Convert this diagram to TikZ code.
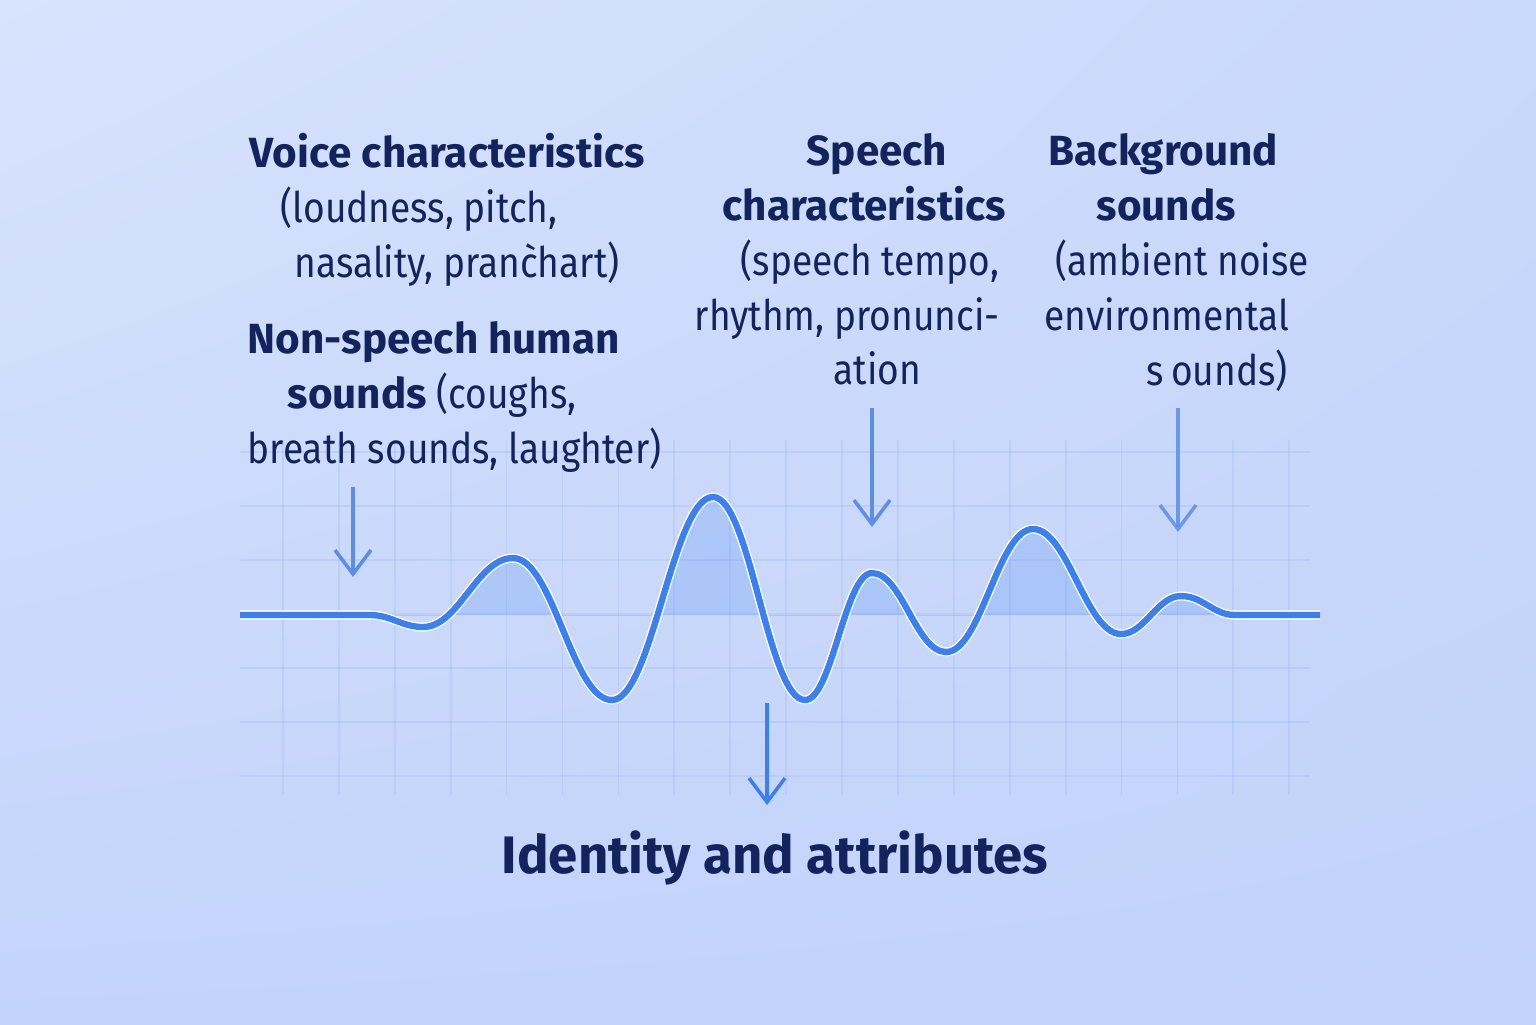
\documentclass[tikz,border=0pt]{standalone}
\usepackage{fontspec}
\setmainfont{Fira Sans}[UprightFeatures={FakeStretch=0.88}]
\usepackage{tikz}
\usetikzlibrary{arrows.meta, positioning, shadings}
\usepackage{xcolor}
\definecolor{ink}{HTML}{13235E}
\definecolor{wave}{HTML}{3A80F2}
\definecolor{pointc}{HTML}{5C8EE6}
\definecolor{gridc}{HTML}{9DB8F2}
\definecolor{bgtl}{HTML}{D8E3FD}
\definecolor{bgtr}{HTML}{C9D9FB}
\definecolor{bgbl}{HTML}{C3D4FB}
\definecolor{bgbr}{HTML}{C2D3FA}
% signal: extrema joined by curves with flat tangents
\newcommand{\wavepath}{(2.40,-6.15) -- (3.70,-6.15)
  .. controls (3.91,-6.15) and (4.02,-6.27) .. (4.23,-6.27)
  .. controls (4.59,-6.27) and (4.77,-5.58) .. (5.13,-5.58)
  .. controls (5.53,-5.58) and (5.72,-7.00) .. (6.12,-7.00)
  .. controls (6.52,-7.00) and (6.73,-4.97) .. (7.13,-4.97)
  .. controls (7.50,-4.97) and (7.68,-7.00) .. (8.05,-7.00)
  .. controls (8.32,-7.00) and (8.45,-5.73) .. (8.72,-5.73)
  .. controls (9.02,-5.73) and (9.16,-6.52) .. (9.46,-6.52)
  .. controls (9.81,-6.52) and (9.98,-5.29) .. (10.33,-5.29)
  .. controls (10.68,-5.29) and (10.86,-6.34) .. (11.21,-6.34)
  .. controls (11.45,-6.34) and (11.57,-5.96) .. (11.81,-5.96)
  .. controls (12.03,-5.96) and (12.13,-6.15) .. (12.35,-6.15)
  -- (13.20,-6.15)}

\begin{document}
\begin{tikzpicture}[
    txtblock/.style={ink, inner sep=0pt, align=left, anchor=north west,
      font=\fontsize{12}{15.6}\selectfont},
    pointer/.style={pointc, line width=1pt,
      -{Straight Barb[length=2.4mm, width=3.6mm, line width=1pt]}},
    gridline/.style={gridc, opacity=0.3, line width=0.5pt}
  ]
  % background
  \useasboundingbox (0,0) rectangle (15.36,-10.24);
  \shade[upper left=bgtl, upper right=bgtr, lower left=bgbl, lower right=bgbr]
    (0,0) rectangle (15.36,-10.24);

  % grid behind the signal
  \foreach \x in {2.83,3.389,...,13.0}
    \draw[gridline] (\x,-4.40) -- (\x,-7.95);
  \foreach \y in {-4.52,-5.06,-5.60,-6.14,-6.68,-7.22,-7.76}
    \draw[gridline] (2.40,\y) -- (13.10,\y);

  % waveform
  \begin{scope}
    \clip (2.3,-4.0) rectangle (13.3,-6.15);
    \fill[wave, opacity=0.2] \wavepath -- cycle;
  \end{scope}
  \draw[white, line width=2.6pt] \wavepath;
  \draw[wave, line width=1.8pt] \wavepath;

  % labels
  \node[txtblock] (voice) at (2.49,-1.33) {{\bfseries Voice characteristics}\\
    \hspace*{0.31cm}(loudness, pitch,\\
    \hspace*{0.45cm}nasality, pranc^^^^0300hart)};
  \node[txtblock] (nonspeech) at (2.47,-3.21) {{\bfseries Non-speech human}\\
    \hspace*{0.40cm}{\bfseries sounds} (coughs,\\
    breath sounds, laughter)};
  \node[txtblock] (speech) at (6.94,-1.33) {\hspace*{1.12cm}{\bfseries Speech}\\
    \hspace*{0.28cm}{\bfseries characteristics}\\
    \hspace*{0.46cm}(speech tempo,\\
    rhythm, pronunci-\\
    \hspace*{1.39cm}ation};
  \node[txtblock] (backgr) at (10.44,-1.33) {\hspace*{0.04cm}{\bfseries Background}\\
    \hspace*{0.52cm}{\bfseries sounds}\\
    \hspace*{0.11cm}(ambient noise\\
    environmental\\
    \hspace*{1.02cm}s\,ounds)};
  \node[ink, inner sep=0pt, anchor=base, font=\bfseries\fontsize{15}{18}\selectfont]
    (identity) at (7.75,-8.73) {Identity and attributes};

  % arrows
  \coordinate (nsFrom) at (3.53,-4.87);
  \coordinate (nsTo) at (3.53,-5.77);
  \coordinate (spFrom) at (8.72,-4.08);
  \coordinate (spTo) at (8.72,-5.27);
  \coordinate (bgFrom) at (11.78,-4.08);
  \coordinate (bgTo) at (11.78,-5.32);
  \coordinate (idFrom) at (7.67,-7.03);
  \coordinate (idTo) at (7.67,-8.05);
  \draw[pointer] (nsFrom) -- (nsTo);
  \draw[pointer] (spFrom) -- (spTo);
  \draw[pointer, opacity=0.85] (bgFrom) -- (bgTo);
  \draw[pointer, wave] (idFrom) -- (idTo);
\end{tikzpicture}
\end{document}
